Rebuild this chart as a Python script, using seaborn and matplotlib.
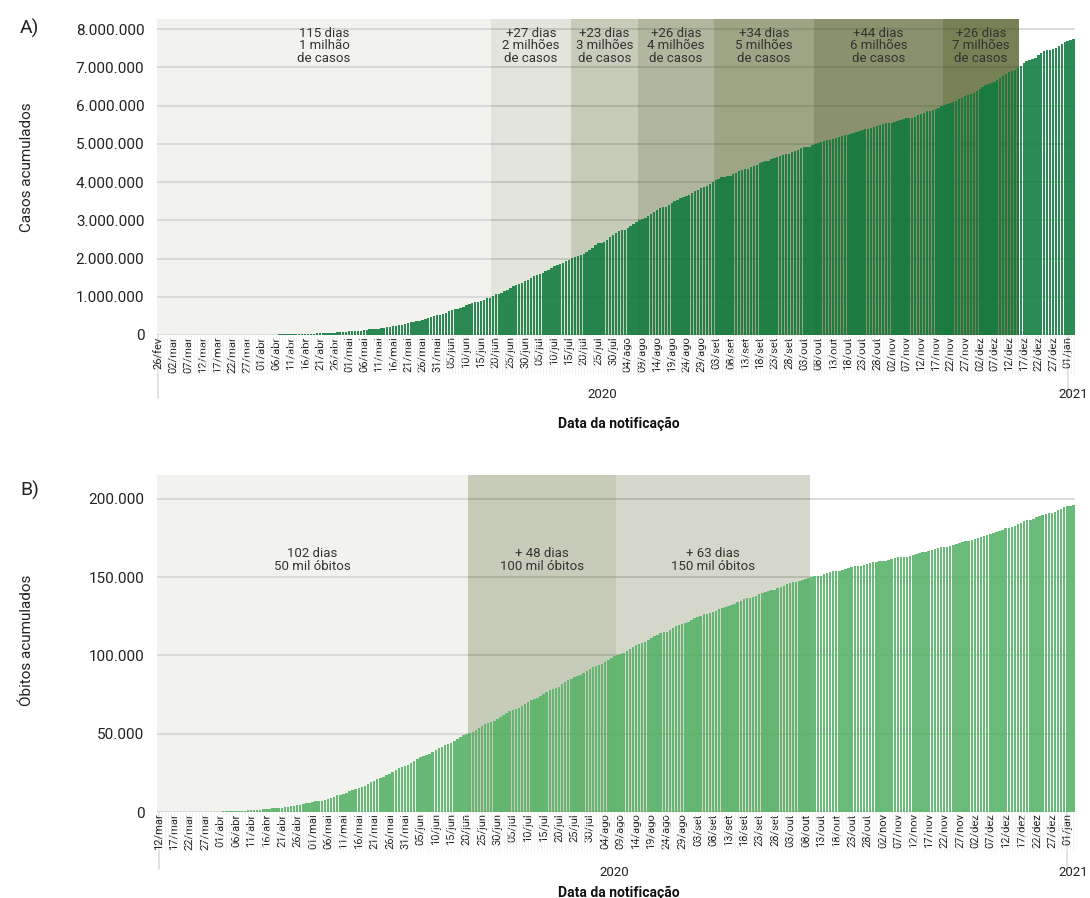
import numpy as np
import pandas as pd
import matplotlib
matplotlib.use('Agg')
import matplotlib.pyplot as plt
from matplotlib.ticker import FuncFormatter
import seaborn as sns

# Casos acumulados (milhares), 26/fev/2020 a 03/jan/2021
casos = [
    0.001, 0.001, 0.001, 0.002,
    0.002, 0.002, 0.002, 0.003, 0.008, 0.013, 0.019, 0.025, 0.025, 0.034, 0.052, 0.077, 0.151, 0.151, 0.2, 0.234,
    0.291, 0.428, 0.621, 0.904, 1.128, 1.546, 1.891, 2.201, 2.433, 2.915, 3.417, 3.904, 4.256, 4.579, 5.717,
    7, 8, 9, 10, 11, 12, 14, 16, 18, 20, 21, 22, 23, 25, 28, 30, 34, 37, 39, 41, 43, 46, 49, 53, 59, 62, 67, 72, 78, 85,
    92, 97, 101, 108, 115, 125, 135, 145, 156, 163, 168, 178, 189, 203, 218, 233, 241, 254, 272, 292, 310, 331, 347,
    363, 375, 391, 412, 438, 465, 498, 515,
    526, 555, 584, 615, 646, 673, 692, 707, 740, 772, 803, 829, 851, 868, 888, 923, 955, 978, 1033, 1068, 1085, 1106,
    1146, 1189, 1228, 1275, 1314, 1344, 1368, 1402,
    1449, 1497, 1539, 1577, 1603, 1623, 1669, 1713, 1756, 1801, 1840, 1865, 1885, 1927, 1967, 2012, 2046, 2075, 2098,
    2119, 2160, 2228, 2287, 2343, 2395, 2419, 2442, 2483, 2552, 2610, 2662,
    2708, 2734, 2750, 2802, 2859, 2912, 2962, 3012, 3035, 3057, 3110, 3165, 3225, 3276, 3317, 3340, 3360, 3407, 3457,
    3502, 3532, 3582, 3606, 3623, 3670, 3717, 3761, 3805, 3846, 3862, 3908,
    3951, 3998, 4042, 4092, 4123, 4138, 4148, 4162, 4198, 4238, 4282, 4316, 4330, 4346, 4382, 4419, 4455, 4495, 4528,
    4545, 4558, 4592, 4625, 4658, 4690, 4718, 4732, 4745, 4778, 4811,
    4847, 4881, 4907, 4915, 4927, 4969, 5001, 5028, 5056, 5083, 5095, 5103, 5114, 5141, 5169, 5200, 5224, 5235, 5251,
    5274, 5299, 5324, 5354, 5381, 5394, 5410, 5440, 5468, 5494, 5517, 5536,
    5546, 5554, 5566, 5590, 5632, 5654, 5675, 5676, 5684, 5701, 5748, 5782, 5811, 5849, 5863, 5877, 5911, 5946, 5982,
    6020, 6053, 6071, 6088, 6119, 6166, 6205, 6239, 6290, 6315, 6336,
    6386, 6436, 6487, 6534, 6577, 6603, 6623, 6675, 6728, 6781, 6836, 6880, 6902, 6928, 6971, 7041, 7111, 7163, 7199,
    7213, 7238, 7319, 7366, 7424, 7449, 7466, 7484, 7504, 7564, 7620, 7676,
    7700, 7716, 7734,
]

# Óbitos acumulados, 12/mar/2020 a 03/jan/2021
obitos = [
    0, 0, 0, 0, 0, 1, 3, 6, 11, 15, 25, 34, 46, 59, 77, 92, 111, 136, 159, 201,
    240, 324, 359, 445, 486, 553, 667, 800, 941, 1056, 1124, 1223, 1328, 1532, 1736, 1924, 2141, 2347, 2462, 2575,
    2741, 2906, 3313, 3670, 4016, 4205, 4543, 5017, 5466, 5901,
    6329, 6750, 7025, 7288, 7921, 8536, 9146, 9897, 10627, 11123, 11519, 12400, 13149, 13993, 14817, 15633, 16118,
    16792, 17971, 18859, 20047, 21048, 22013, 22666, 23473, 24512, 25598, 26754, 27878, 28834, 29314,
    29937, 31199, 32548, 34021, 35026, 35930, 36455, 37134, 38406, 39680, 40919, 41828, 42720, 43332, 43959, 45241,
    46510, 47748, 48954, 49976, 50617, 51271, 52645, 53830, 55054, 55961, 57070, 57622, 58314, 59594,
    60632, 61884, 63174, 64265, 64867, 65487, 66741, 67964, 69184, 70398, 71469, 72100, 72833, 74133, 75366, 76688,
    77851, 78772, 79488, 80120, 81487, 82771, 84082, 85238, 86449, 87004, 87618, 88539, 90134, 91263, 92475,
    93563, 94104, 94665, 95819, 97256, 98493, 99572, 100477, 101049, 101752, 103026, 104201, 105463, 106523, 107232,
    107852, 108536, 109888, 111100, 112304, 113358, 114250, 114744, 115309, 116580, 117665, 118649, 119504, 120262,
    120828, 121381,
    122596, 123780, 124614, 125502, 126203, 126650, 126960, 127464, 128539, 129522, 130396, 131210, 131625, 132006,
    133119, 134106, 134935, 135793, 136532, 136895, 137272, 138105, 138977, 139808, 140537, 141406, 141741, 142058,
    142921, 143952,
    144680, 145388, 146352, 146675, 146773, 147494, 148228, 148957, 149639, 150198, 150488, 150689, 150998, 151747,
    152460, 153214, 153675, 153905, 154176, 154837, 155403, 155900, 156471, 156903, 157134, 157397, 157946, 158456,
    158969, 159477, 159884,
    160074, 160253, 160496, 161106, 161736, 162035, 162628, 162802, 162829, 162842, 163368, 164281, 164737, 165658,
    165798, 166014, 166699, 167455, 168061, 168613, 168989, 169183, 169485, 170115, 170769, 171460, 171974, 172561,
    172833, 173120,
    173817, 174515, 175270, 175964, 176628, 176941, 177317, 178159, 178995, 179765, 180437, 181123, 181402, 181835,
    182799, 183735, 184827, 185650, 186356, 186764, 187291, 188259, 189220, 189982, 190488, 190795, 191139, 191570,
    192681, 193875, 194949,
    195411, 195725, 196018,
]

meses = ['jan', 'fev', 'mar', 'abr', 'mai', 'jun', 'jul', 'ago', 'set', 'out', 'nov', 'dez']
datas_casos = pd.date_range('2020-02-26', periods=len(casos))
datas_obitos = pd.date_range('2020-03-12', periods=len(obitos))

# periodos entre marcos (dias) e textos
dias_casos = [115, 27, 23, 26, 34, 44, 26]
textos_casos = ['115 dias\n1 milhão\nde casos', '+27 dias\n2 milhões\nde casos', '+23 dias\n3 milhões\nde casos',
                '+26 dias\n4 milhões\nde casos', '+34 dias\n5 milhões\nde casos', '+44 dias\n6 milhões\nde casos',
                '+26 dias\n7 milhões\nde casos']
dias_obitos = [102, 48, 63]
textos_obitos = ['102 dias\n50 mil óbitos', '+ 48 dias\n100 mil óbitos', '+ 63 dias\n150 mil óbitos']

sns.set_style('white')
plt.rcParams['font.family'] = ['Roboto', 'DejaVu Sans']

W, H = 1090, 898
fig = plt.figure(figsize=(W / 100, H / 100), dpi=100)

olive = '#465519'


def fmt_milhar(v, pos):
    return f'{int(round(v)):,}'.replace(',', '.')


def painel(ax, valores, datas, dias, textos, cor, alphas, ymax, yticks, text_y, text_va, ext):
    n = len(valores)
    sns.barplot(x=np.arange(n), y=valores, color=cor, saturation=1, width=0.8, linewidth=0,
                alpha=0.88, ax=ax, zorder=2)
    ax.set_xlim(-0.5, n - 0.5)
    ax.set_ylim(0, ymax)
    ax.set_yticks(yticks)
    ax.yaxis.set_major_formatter(FuncFormatter(fmt_milhar))
    ax.tick_params(axis='y', length=0, pad=9, labelsize=11, labelcolor='#222222')
    ax.yaxis.grid(True, color='#d8d8d8', lw=1.3, zorder=0.5)
    ax.set_axisbelow(True)
    for s in ax.spines.values():
        s.set_visible(False)
    ax.set_ylabel('')
    ax.set_xlabel('')

    # faixas dos marcos
    bordas = [-0.5] + [c - 1.5 for c in np.cumsum(dias)]
    for i in range(len(dias)):
        x0, x1 = bordas[i], bordas[i + 1]
        if i == 0:
            ax.axvspan(x0, x1, color='#f2f2ee', zorder=0, lw=0)
        else:
            ax.axvspan(x0, x1, color=olive, alpha=alphas[i - 1], zorder=1, lw=0)
        ax.text((x0 + x1) / 2, text_y, textos[i], ha='center', va=text_va, fontsize=9.5,
                color='#333333', linespacing=0.95, zorder=5)

    # ticks diarios e rotulos a cada 5 dias
    ax.set_xticks(np.arange(n), minor=True)
    idx = np.arange(0, n, 5)
    ax.set_xticks(idx)
    ax.set_xticklabels([f'{datas[i].day:02d}/{meses[datas[i].month - 1]}' for i in idx],
                       rotation=90, fontsize=8, color='#222222')
    ax.tick_params(axis='x', which='both', length=28, width=0.5, color='#eeeeee',
                   direction='out', pad=-27, bottom=True)

    # linhas dos anos
    i_jan = list(datas).index(pd.Timestamp('2021-01-01'))
    for xi in [0, i_jan]:
        ax.plot([xi, xi], [0, -ext], color='#dddddd', lw=1.2, clip_on=False,
                transform=ax.get_xaxis_transform(), zorder=0)


axA = fig.add_axes([157 / W, (H - 335) / H, (1075 - 157) / W, (335 - 19) / H])
painel(axA, casos, datas_casos, dias_casos, textos_casos, '#0f7a3c',
       [0.15, 0.3, 0.42, 0.53, 0.64, 0.74], 8265, np.arange(0, 8001, 1000),
       8060, 'top', 0.2)
axA.yaxis.set_major_formatter(FuncFormatter(lambda v, p: fmt_milhar(v * 1000, p)))

axB = fig.add_axes([157 / W, (H - 812) / H, (1075 - 157) / W, (812 - 475) / H])
painel(axB, obitos, datas_obitos, dias_obitos, textos_obitos, '#55b266',
       [0.3, 0.23], 215300, np.arange(0, 200001, 50000),
       161000, 'center', 0.17)

# textos externos
fig.text(20 / W, 1 - 28 / H, 'A)', fontsize=14, va='center', ha='left', color='#222222')
fig.text(20 / W, 1 - 490 / H, 'B)', fontsize=14, va='center', ha='left', color='#222222')
fig.text(27 / W, 1 - 167 / H, 'Casos acumulados', rotation=90, fontsize=11, va='center', ha='center', color='#222222')
fig.text(27 / W, 1 - 640 / H, 'Óbitos acumulados', rotation=90, fontsize=11, va='center', ha='center', color='#222222')
for y_ano, y_lab, x_2020 in [(395, 424, 602), (872, 893, 614)]:
    fig.text(x_2020 / W, 1 - y_ano / H, '2020', fontsize=9.5, ha='center', va='center', color='#222222')
    fig.text(1073 / W, 1 - y_ano / H, '2021', fontsize=9.5, ha='center', va='center', color='#222222')
    fig.text(619 / W, 1 - y_lab / H, 'Data da notificação', fontsize=10, fontweight='bold',
             ha='center', va='center', color='#111111')

fig.savefig('out.png', dpi=100)
